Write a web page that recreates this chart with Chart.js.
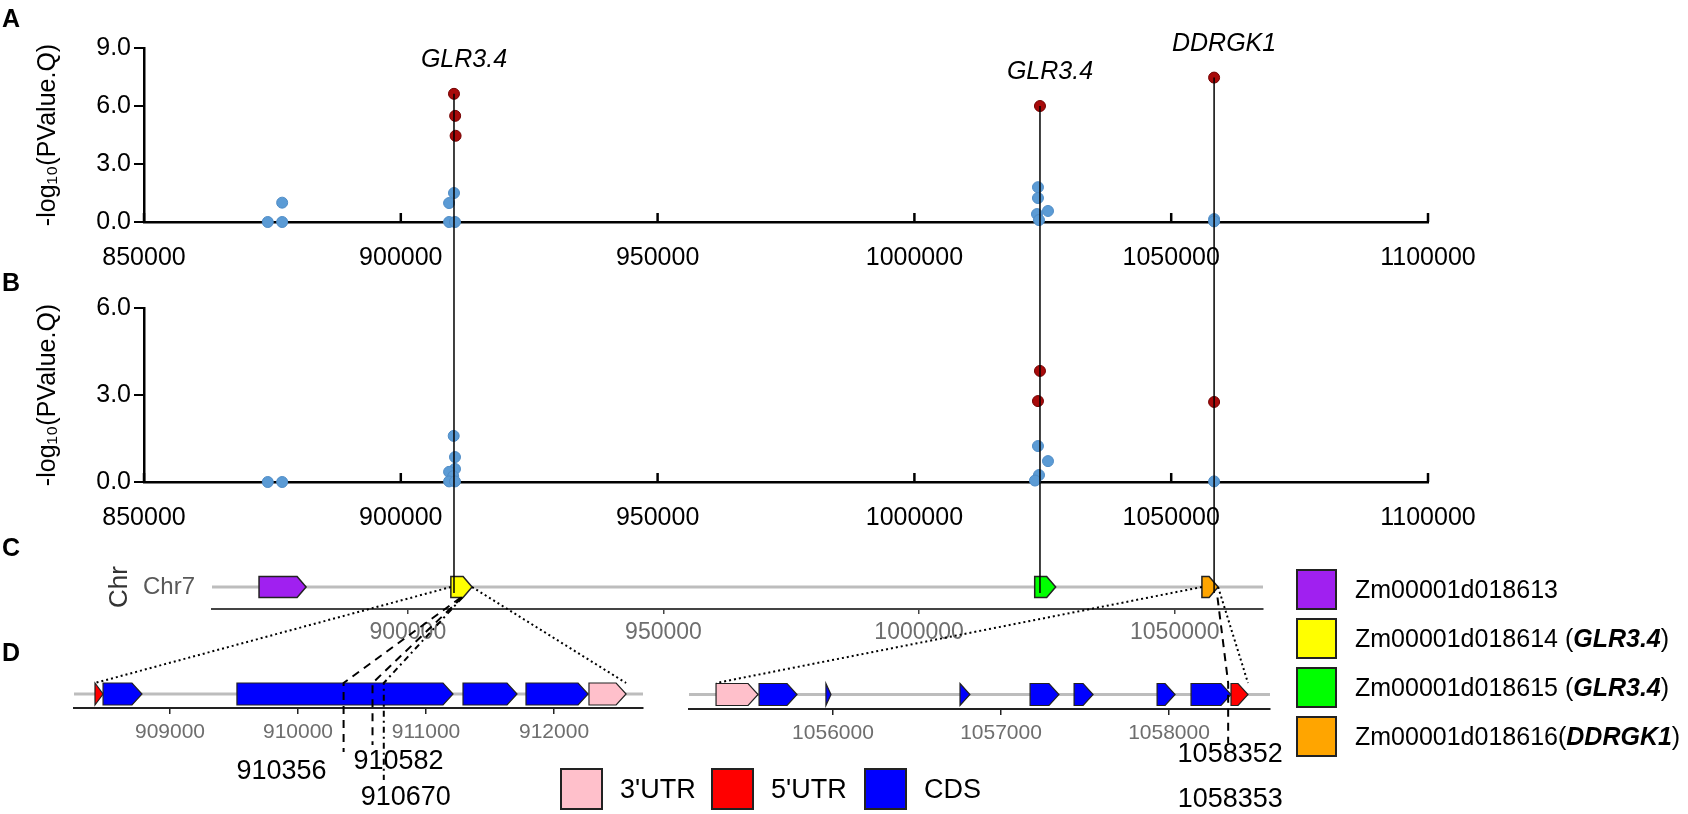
<!DOCTYPE html>
<html lang="en">
<head>
<meta charset="UTF-8">
<title>GLR3.4 / DDRGK1 association</title>
<script src="https://cdn.jsdelivr.net/npm/chart.js"></script>
<style>
    body { margin: 0; background: #fff; font-family: "Liberation Sans", Arial, sans-serif; }
    .page { position: relative; width: 1688px; height: 814px; overflow: hidden; }
    .page canvas { position: absolute; left: 0; top: 0; }
    .panel { position: absolute; font-weight: bold; font-size: 25px; line-height: 1; }
    .leg { position: absolute; display: flex; align-items: center; color: #000; white-space: nowrap; }
    .box { border: 2px solid #222; box-sizing: border-box; }
</style>
</head>
<body>
<div class="page" id="page">
    <canvas id="chartA" width="1688" height="814"></canvas>
    <canvas id="chartB" width="1688" height="814"></canvas>
    <canvas id="chartC" width="1688" height="814"></canvas>
    <canvas id="chartDL" width="1688" height="814"></canvas>
    <canvas id="chartDR" width="1688" height="814"></canvas>

    <div class="panel" style="left:2px; top:6px">A</div>
    <div class="panel" style="left:2px; top:270px">B</div>
    <div class="panel" style="left:2px; top:535px">C</div>
    <div class="panel" style="left:2px; top:640px">D</div>
</div>

<script>
    // ---------- data ----------
    var xTicksAB = [850000, 900000, 950000, 1000000, 1050000, 1100000]
    var yTicksA = [0, 3, 6, 9]
    var yTicksB = [0, 3, 6]

    // panel A: other SNPs (blue) and significant SNPs (red), -log10(Q)
    var snpPosA = [874100, 876900, 876900, 909400, 909400, 910360, 910550, 1024060, 1024060, 1023870, 1026010, 1024260, 1058352, 1058352]
    var snpValA = [0, 0, 1.0, 0.98, 0, 1.5, 0, 1.8, 1.24, 0.41, 0.57, 0.1, 0.15, 0.03]
    var leadPosA = [910356, 910582, 910670, 1024450, 1058352]
    var leadValA = [6.63, 5.49, 4.46, 6.0, 7.47]

    // panel B
    var snpPosB = [874100, 876900, 910300, 910550, 910550, 909400, 910200, 909400, 910550, 1024060, 1026010, 1024260, 1023480, 1058352]
    var snpValB = [0, 0, 1.59, 0.86, 0.45, 0.35, 0.2, 0.02, 0.02, 1.24, 0.72, 0.24, 0.05, 0.02]
    var leadPosB = [1024450, 1024060, 1058352]
    var leadValB = [3.83, 2.79, 2.76]

    // lead loci with their gene names
    var stemPos = [910356, 1024450, 1058352]
    var stemGene = ['GLR3.4', 'GLR3.4', 'DDRGK1']

    // panel C: genes on Chr7
    var chrLabel = ['Chr7']
    var xTicksC = [900000, 950000, 1000000, 1050000]
    var geneIds = ['Zm00001d018613', 'Zm00001d018614', 'Zm00001d018615', 'Zm00001d018616']
    var geneAlias = ['', 'GLR3.4', 'GLR3.4', 'DDRGK1']
    var geneStart = [870900, 908414, 1022600, 1055304]
    var geneEnd = [880100, 912563, 1026700, 1058470]

    // panel D: gene structures
    var xTicksDL = [909000, 910000, 911000, 912000]
    var featStartL = [908414, 908477, 909523, 911289, 911781, 912273]
    var featEndL = [908477, 908781, 911211, 911711, 912266, 912563]
    var featTypeL = ['5UTR', 'CDS', 'CDS', 'CDS', 'CDS', '3UTR']
    var snpLabelsL = [910356, 910582, 910670]

    var xTicksDR = [1056000, 1057000, 1058000]
    var featStartR = [1055304, 1055560, 1055958, 1056756, 1057173, 1057435, 1057929, 1058131, 1058369]
    var featEndR = [1055554, 1055786, 1055988, 1056815, 1057345, 1057548, 1058036, 1058369, 1058470]
    var featTypeR = ['3UTR', 'CDS', 'CDS', 'CDS', 'CDS', 'CDS', 'CDS', 'CDS', '5UTR']
    var snpLabelsR = [1058352, 1058353]

    var featNames = ["3'UTR", "5'UTR", 'CDS']
    var featKeys = ['3UTR', '5UTR', 'CDS']

    // ---------- styles ----------
    var geneColors = ['#A020F0', '#FFFF00', '#00FF00', '#FFA500']
    var featColors = { '3UTR': '#FFC0CB', '5UTR': '#FF0000', 'CDS': '#0000FF' }
    var snpLabelDxL = [-62, 26, 22], snpLabelDyL = [64, 54, 90], snpLineDyL = [44, 37, 72]
    var snpDashL = [[8, 6], [8, 6], [6, 4, 2, 4]]
    var snpLabelDxR = [2, 2], snpLabelDyR = [46, 91], snpLineDyR = [34, 34]

    Chart.defaults.font.family = '"Liberation Sans", Arial, sans-serif'
    Chart.defaults.color = '#000'

    function pts(xs, ys) {
        return xs.map(function (x, i) { return { x: x, y: ys[i] } })
    }
    function fixTicks(arr) {
        return function (s) { s.ticks = arr.map(function (v) { return { value: v } }) }
    }

    // short tick marks pointing up into the plot
    var innerTicks = {
        id: 'innerTicks',
        afterDraw: function (chart) {
            var s = chart.scales.x, ctx = chart.ctx, b = chart.chartArea.bottom
            ctx.save()
            ctx.strokeStyle = '#000'
            ctx.lineWidth = 2.5
            s.ticks.forEach(function (t) {
                var px = s.getPixelForValue(t.value)
                ctx.beginPath(); ctx.moveTo(px, b); ctx.lineTo(px, b - 9); ctx.stroke()
            })
            ctx.restore()
        }
    }

    // grey chromosome / gene line behind the arrows
    var trackLine = {
        id: 'trackLine',
        beforeDatasetsDraw: function (chart, args, opts) {
            var ctx = chart.ctx, a = chart.chartArea
            var y = chart.scales.y.getPixelForValue(0)
            ctx.save()
            ctx.strokeStyle = opts.color
            ctx.lineWidth = opts.width
            ctx.beginPath(); ctx.moveTo(a.left, y); ctx.lineTo(a.right, y); ctx.stroke()
            ctx.restore()
        }
    }

    // turn each floating bar into an arrow (pentagon)
    var geneArrows = {
        id: 'geneArrows',
        afterDatasetsDraw: function (chart, args, opts) {
            var ctx = chart.ctx
            var ds = chart.data.datasets[0]
            chart.getDatasetMeta(0).data.forEach(function (el, i) {
                var p = el.getProps(['x', 'y', 'base', 'height'], true)
                var l = Math.min(p.x, p.base), r = Math.max(p.x, p.base)
                var t = p.y - p.height / 2, bt = p.y + p.height / 2
                var tip = Math.min(opts.tip, r - l)
                ctx.save()
                ctx.beginPath()
                ctx.moveTo(l, t)
                ctx.lineTo(r - tip, t)
                ctx.lineTo(r, p.y)
                ctx.lineTo(r - tip, bt)
                ctx.lineTo(l, bt)
                ctx.closePath()
                ctx.fillStyle = ds.arrowColors[i]
                ctx.fill()
                ctx.strokeStyle = '#222'
                ctx.lineWidth = opts.line
                ctx.stroke()
                ctx.restore()
            })
        }
    }

    function scatterPanel(id, top, bottom, yTicks, yMax, bx, by, rx, ry) {
        return new Chart(document.getElementById(id), {
            type: 'scatter',
            data: {
                datasets: [
                    { data: pts(bx, by), backgroundColor: '#5B9BD5', borderColor: '#4F8CC6', borderWidth: 1, pointRadius: 5.5, clip: false },
                    { data: pts(rx, ry), backgroundColor: '#A80A0A', borderColor: '#720000', borderWidth: 1, pointRadius: 5.5, clip: false }
                ]
            },
            options: {
                responsive: false,
                animation: false,
                events: [],
                layout: { autoPadding: false, padding: { left: 29, right: 260, top: top, bottom: 814 - bottom - 50 } },
                plugins: { legend: { display: false }, tooltip: { enabled: false } },
                scales: {
                    x: {
                        type: 'linear', min: 850000, max: 1100000,
                        afterBuildTicks: fixTicks(xTicksAB),
                        afterFit: function (s) { s.height = 50 },
                        border: { color: '#000', width: 2.5 },
                        grid: { drawOnChartArea: false, drawTicks: false },
                        ticks: { color: '#000', font: { size: 25 }, padding: 21, maxRotation: 0, autoSkip: false,
                                 callback: function (v) { return String(v) } }
                    },
                    y: {
                        min: 0, max: yMax,
                        afterBuildTicks: fixTicks(yTicks),
                        afterFit: function (s) { s.width = 115 },
                        border: { color: '#000', width: 2.5 },
                        grid: { drawOnChartArea: false, drawTicks: true, tickLength: 10, color: '#000', lineWidth: 2 },
                        ticks: { color: '#000', font: { size: 25 }, padding: 3,
                                 callback: function (v) { return v.toFixed(1) } },
                        title: { display: true, text: '-log\u2081\u2080(PValue.Q)', color: '#000', font: { size: 25 }, padding: { top: 4, bottom: 4 } }
                    }
                }
            },
            plugins: [innerTicks]
        })
    }

    function trackPanel(id, cfg) {
        return new Chart(document.getElementById(id), {
            type: 'bar',
            data: {
                labels: cfg.labels,
                datasets: [{
                    data: cfg.starts.map(function (s, i) { return { x: [s, cfg.ends[i]], y: cfg.labels[0] } }),
                    backgroundColor: 'rgba(0,0,0,0)',
                    borderWidth: 0,
                    barThickness: cfg.thick,
                    arrowColors: cfg.colors
                }]
            },
            options: {
                indexAxis: 'y',
                responsive: false,
                animation: false,
                events: [],
                layout: { autoPadding: false, padding: cfg.padding },
                plugins: {
                    legend: { display: false }, tooltip: { enabled: false },
                    trackLine: { color: '#BDBDBD', width: 3 },
                    geneArrows: { tip: cfg.tip, line: cfg.line }
                },
                scales: {
                    x: {
                        type: 'linear', min: cfg.min, max: cfg.max,
                        afterBuildTicks: fixTicks(cfg.ticks),
                        afterFit: function (s) { s.height = 40 },
                        border: { color: cfg.axisColor, width: 2 },
                        grid: { drawOnChartArea: false, drawTicks: true, tickLength: cfg.tickLen, color: cfg.axisColor, lineWidth: 1.5 },
                        ticks: { color: '#6e6e6e', font: { size: cfg.tickSize }, padding: cfg.tickPad, maxRotation: 0, autoSkip: false,
                                 callback: function (v) { return String(v) } }
                    },
                    y: cfg.yAxis
                }
            },
            plugins: [trackLine, geneArrows].concat(cfg.extra || [])
        })
    }

    var chartA = scatterPanel('chartA', 48, 222, yTicksA, 9, snpPosA, snpValA, leadPosA, leadValA)
    var chartB = scatterPanel('chartB', 308, 482, yTicksB, 6, snpPosB, snpValB, leadPosB, leadValB)

    var chartC = trackPanel('chartC', {
        labels: chrLabel, starts: geneStart, ends: geneEnd, colors: geneColors,
        thick: 21, tip: 9, line: 1.5, min: 861700, max: 1067250, ticks: xTicksC,
        axisColor: '#444', tickLen: 5, tickSize: 23, tickPad: 5,
        padding: { left: 100, right: 425, top: 565, bottom: 165 },
        yAxis: {
            type: 'category',
            afterFit: function (s) { s.width = 112 },
            border: { display: false },
            grid: { display: false, drawTicks: false },
            ticks: { color: '#595959', font: { size: 24 }, padding: 17 },
            title: { display: true, text: 'Chr', color: '#333', font: { size: 26 }, padding: { top: 4, bottom: 4 } }
        }
    })

    var hiddenY = { type: 'category', display: false }

    var chartDL = trackPanel('chartDL', {
        labels: ['GLR3.4'], starts: featStartL, ends: featEndL,
        colors: featTypeL.map(function (t) { return featColors[t] }),
        thick: 22, tip: 10, line: 1.2, min: 908250, max: 912695, ticks: xTicksDL,
        axisColor: '#222', tickLen: 6, tickSize: 21, tickPad: 6,
        padding: { left: 74, right: 1045, top: 680, bottom: 66 },
        yAxis: hiddenY
    })

    // cross-panel lines and labels, drawn on the top canvas
    var connectors = {
        id: 'connectors',
        afterDraw: function (chart) {
            var ctx = chart.ctx
            var ax = chartA.scales.x, ay = chartA.scales.y
            var cx = chartC.scales.x, cyc = chartC.scales.y.getPixelForValue(0)
            var cBottom = cyc + 10.5
            var dlx = chartDL.scales.x, drx = chart.scales.x
            var dTop = chartDL.scales.y.getPixelForValue(0) - 11
            var dlAxis = chartDL.chartArea.bottom, drAxis = chart.chartArea.bottom

            ctx.save()
            // vertical stems through A and B down to the gene track
            stemPos.forEach(function (pos, i) {
                var top = 0
                leadPosA.forEach(function (p, j) { if (Math.abs(p - pos) < 2000) top = Math.max(top, leadValA[j]) })
                var x = ax.getPixelForValue(pos), yTop = ay.getPixelForValue(top)
                ctx.strokeStyle = '#000'; ctx.lineWidth = 1.5; ctx.setLineDash([])
                ctx.beginPath(); ctx.moveTo(x, yTop); ctx.lineTo(x, cyc + 6); ctx.stroke()
                ctx.fillStyle = '#000'
                ctx.font = 'italic 25px "Liberation Sans", Arial, sans-serif'
                ctx.textAlign = 'center'; ctx.textBaseline = 'middle'
                ctx.fillText(stemGene[i], x + 10, yTop - 34)
            })

            // dotted zoom lines from gene in C to its structure in D
            ctx.lineWidth = 2; ctx.setLineDash([2, 3]); ctx.strokeStyle = '#000'
            var zooms = [
                [geneStart[1], dlx.getPixelForValue(featStartL[0])],
                [geneEnd[1], dlx.getPixelForValue(featEndL[featEndL.length - 1])],
                [geneStart[3], drx.getPixelForValue(featStartR[0])],
                [geneEnd[3], drx.getPixelForValue(featEndR[featEndR.length - 1])]
            ]
            zooms.forEach(function (z) {
                ctx.beginPath(); ctx.moveTo(cx.getPixelForValue(z[0]), cyc); ctx.lineTo(z[1], dTop); ctx.stroke()
            })

            // SNP position lines and labels
            ctx.font = '27px "Liberation Sans", Arial, sans-serif'
            ctx.textAlign = 'center'; ctx.textBaseline = 'middle'
            snpLabelsL.forEach(function (pos, i) {
                var x = dlx.getPixelForValue(pos)
                ctx.setLineDash(snpDashL[i]); ctx.lineWidth = 2
                ctx.beginPath()
                ctx.moveTo(cx.getPixelForValue(pos), cBottom)
                ctx.lineTo(x, dTop)
                ctx.lineTo(x, dlAxis + snpLineDyL[i])
                ctx.stroke()
                ctx.fillText(String(pos), x + snpLabelDxL[i], dlAxis + snpLabelDyL[i])
            })
            var xr = drx.getPixelForValue(snpLabelsR[0])
            ctx.setLineDash([8, 6]); ctx.lineWidth = 2
            ctx.beginPath()
            ctx.moveTo(cx.getPixelForValue(snpLabelsR[0]), cBottom)
            ctx.lineTo(xr, dTop)
            ctx.lineTo(xr, drAxis + snpLineDyR[0])
            ctx.stroke()
            snpLabelsR.forEach(function (pos, i) {
                ctx.fillText(String(pos), drx.getPixelForValue(pos) + snpLabelDxR[i], drAxis + snpLabelDyR[i])
            })
            ctx.restore()
        }
    }

    var chartDR = trackPanel('chartDR', {
        labels: ['DDRGK1'], starts: featStartR, ends: featEndR,
        colors: featTypeR.map(function (t) { return featColors[t] }),
        thick: 22, tip: 10, line: 1.2, min: 1055143, max: 1058601, ticks: xTicksDR,
        axisColor: '#222', tickLen: 6, tickSize: 21, tickPad: 6,
        padding: { left: 689, right: 418, top: 680, bottom: 65 },
        yAxis: hiddenY,
        extra: [connectors]
    })

    // ---------- legends (html text) ----------
    var page = document.getElementById('page')
    geneIds.forEach(function (g, i) {
        var d = document.createElement('div')
        d.className = 'leg'
        d.style.left = '1296px'
        d.style.top = (569 + i * 49) + 'px'
        d.style.fontSize = '25px'
        var alias = geneAlias[i] ? (i === 3 ? '' : ' ') + '(<b><i>' + geneAlias[i] + '</i></b>)' : ''
        d.innerHTML = '<div class="box" style="width:41px;height:41px;background:' + geneColors[i] + '"></div>' +
            '<span style="margin-left:18px">' + g + alias + '</span>'
        page.appendChild(d)
    })

    var featLegX = [560, 711, 864]
    featNames.forEach(function (n, i) {
        var d = document.createElement('div')
        d.className = 'leg'
        d.style.left = featLegX[i] + 'px'
        d.style.top = '768px'
        d.style.fontSize = '27px'
        d.innerHTML = '<div class="box" style="width:43px;height:42px;background:' + featColors[featKeys[i]] + '"></div>' +
            '<span style="margin-left:17px">' + n + '</span>'
        page.appendChild(d)
    })
</script>
</body>
</html>
